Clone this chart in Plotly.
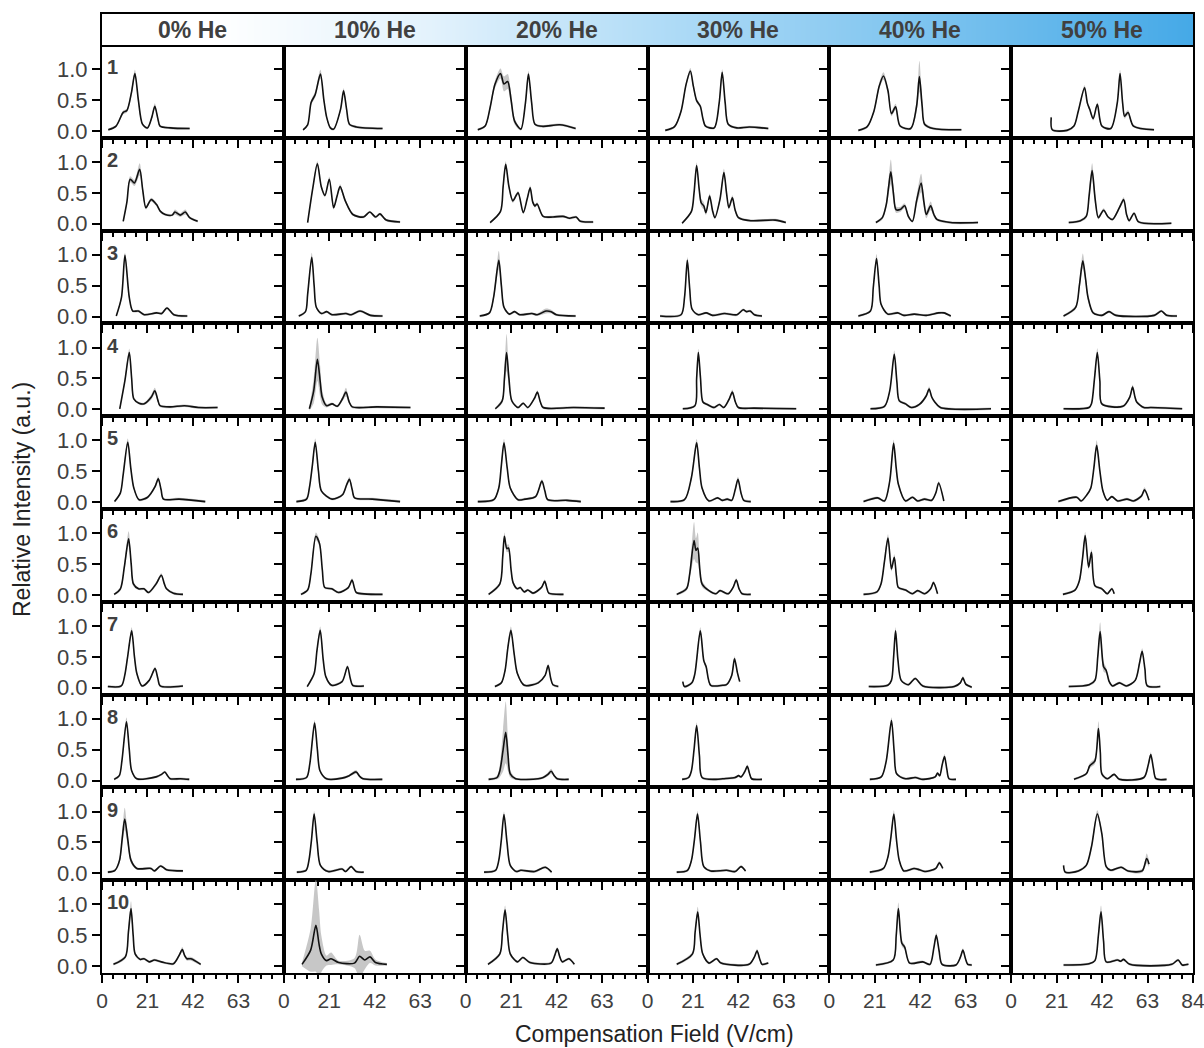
import plotly.graph_objects as go

# ---------------- data (x = compensation field V/cm, y = relative intensity, e = band half-width) ----
helium = ["0% He", "10% He", "20% He", "30% He", "40% He", "50% He"]
panel_labels = ["1", "2", "3", "4", "5", "6", "7", "8", "9", "10"]
x_ticks = [0, 21, 42, 63]
x_ticks_last = [0, 21, 42, 63, 84]
y_ticks = [0.0, 0.5, 1.0]
y_ticktext = ["0.0", "0.5", "1.0"]

# row 1
m1_he0 = [(2.9,.02,.02),(6.5,.08,.02),(9.8,.3,.03),(11.5,.33,.03),(13.6,.62,.05),(15.2,.93,.06),(16.8,.5,.04),(18.7,.11,.02),(21,.05,.02),(23,.22,.03),(24.4,.4,.05),(25.8,.2,.03),(26.8,.08,.02),(31.6,.05,.02),(40.5,.04,.02)]
m1_he10 = [(8.9,.02,.02),(11,.1,.02),(12.6,.46,.04),(14.5,.59,.05),(16.9,.92,.07),(18.5,.5,.04),(19.8,.22,.03),(21.5,.05,.02),(23,.03,.02),(26.2,.35,.03),(27.6,.65,.04),(29,.35,.03),(30.3,.11,.02),(33.5,.065,.02),(45.6,.04,.02)]
m1_he20 = [(5.6,.02,.02),(9,.08,.02),(11.3,.38,.04),(13.5,.75,.06),(16.1,.93,.08),(17.7,.76,.12),(19.4,.8,.12),(21,.5,.1),(22.6,.16,.05),(25.5,.03,.02),(27.6,.45,.04),(29,.92,.05),(30.5,.45,.03),(32,.11,.02),(35.5,.075,.02),(43.5,.1,.02),(50.8,.04,.02)]
m1_he30 = [(8.2,.01,.02),(12.5,.07,.02),(15.5,.32,.03),(17.8,.75,.04),(19.8,.97,.05),(21.2,.72,.04),(22.7,.49,.03),(24.4,.4,.03),(25.6,.2,.03),(26.8,.08,.02),(30.8,.05,.02),(33.1,.45,.04),(34.5,.95,.05),(35.9,.45,.04),(37.3,.11,.02),(41.3,.05,.02),(47,.065,.02),(55.8,.04,.02)]
m1_he40 = [(13.4,.01,.02),(17.5,.07,.02),(20.6,.32,.03),(23,.72,.05),(25,.89,.06),(27.1,.65,.05),(28.7,.28,.04),(30.6,.39,.05),(32.7,.08,.02),(37.6,.04,.02),(40.3,.4,.1),(41.6,.88,.25),(42.9,.4,.1),(44,.11,.03),(48,.04,.02),(61,.02,.02)]
m1_he50 = [(18.5,.22,.05),(19,.02,.02),(25.8,.01,.02),(29,.08,.02),(31,.32,.03),(33.9,.7,.04),(35.2,.45,.03),(36.3,.35,.03),(37.9,.2,.03),(39.8,.43,.03),(41.9,.08,.02),(46,.04,.02),(49,.45,.04),(50.3,.93,.06),(51.5,.45,.04),(52.4,.24,.04),(54,.3,.04),(56.5,.08,.02),(66,.02,.02)]

# row 2
m2_he0 = [(9.8,.04,.02),(11.5,.35,.03),(13,.72,.05),(15,.66,.05),(17.4,.88,.1),(18.8,.55,.05),(20.3,.26,.03),(22.7,.39,.03),(25.2,.31,.03),(27,.2,.02),(29.2,.15,.02),(32.4,.14,.02),(33.7,.19,.04),(36.1,.14,.03),(38.5,.19,.04),(40.5,.1,.02),(44.2,.04,.02)]
m2_he10 = [(11,.02,.02),(13.4,.58,.03),(15.5,.97,.04),(17.3,.6,.03),(19,.46,.03),(21,.72,.04),(23,.26,.03),(24.6,.45,.03),(26,.6,.04),(28.4,.37,.03),(31.9,.15,.02),(36.8,.11,.02),(39.7,.19,.02),(42.4,.11,.02),(44.4,.16,.02),(47.3,.06,.02),(53.7,.03,.02)]
m2_he20 = [(11.3,.02,.02),(16.1,.2,.02),(17.3,.6,.04),(18.5,.96,.05),(20,.6,.04),(21.8,.37,.03),(24.2,.5,.03),(26.6,.18,.02),(28.4,.4,.03),(29.8,.58,.04),(31,.35,.03),(32,.29,.03),(33,.32,.03),(35.8,.12,.02),(40.3,.11,.02),(45,.12,.02),(48,.09,.02),(51,.11,.02),(53,.04,.02),(58.9,.03,.02)]
m2_he30 = [(16,.01,.02),(20.3,.2,.02),(21.5,.5,.04),(22.7,.94,.05),(23.9,.55,.05),(24.8,.34,.06),(26,.29,.06),(27,.18,.04),(28.7,.45,.04),(30,.22,.03),(31.1,.1,.02),(33.5,.4,.04),(35.3,.83,.06),(36.5,.5,.05),(37.6,.26,.03),(39.2,.42,.04),(40.5,.22,.03),(42,.1,.02),(47.7,.05,.02),(59,.06,.02),(63.9,.02,.02)]
m2_he40 = [(21.5,.02,.02),(24.5,.1,.03),(26.3,.31,.06),(27.4,.6,.12),(28.4,.84,.2),(29.6,.5,.12),(30.8,.23,.05),(32.7,.23,.04),(34.8,.29,.04),(36.5,.12,.03),(38.4,.04,.02),(40.3,.37,.08),(42.4,.66,.15),(43.7,.35,.1),(44.8,.15,.06),(46.8,.29,.07),(48.3,.15,.04),(49.7,.07,.02),(56,.02,.02),(68.7,.02,.02)]
m2_he50 = [(26.6,.02,.02),(32,.05,.02),(34.7,.12,.03),(36,.45,.08),(37.4,.86,.12),(38.8,.4,.08),(40.3,.1,.03),(42.7,.22,.03),(44.8,.11,.02),(46.8,.07,.02),(50,.26,.03),(52,.39,.04),(53.3,.15,.02),(54.5,.05,.02),(56.8,.17,.02),(58.9,.03,.02),(74,.01,.02)]

# row 3
m3_he0 = [(6.6,.01,.02),(9,.31,.03),(10.6,.99,.04),(12.6,.31,.03),(14.2,.09,.02),(16.8,.09,.02),(19.5,.03,.02),(25.2,.06,.02),(27.6,.05,.02),(30,.14,.02),(33.2,.03,.02),(39.4,.01,.02)]
m3_he10 = [(6.9,.01,.02),(10,.08,.02),(11,.36,.04),(12.9,.96,.07),(14,.5,.04),(15,.15,.02),(17.4,.05,.02),(19.8,.08,.02),(22.3,.03,.02),(28.7,.05,.02),(31.1,.03,.02),(35.2,.09,.02),(40,.02,.02),(45.6,.01,.02)]
m3_he20 = [(6.5,.01,.02),(11,.06,.02),(12.9,.31,.05),(15.3,.91,.15),(16.5,.5,.08),(17.7,.15,.03),(20.2,.04,.02),(22.6,.08,.02),(25,.03,.02),(30.6,.05,.02),(33,.03,.02),(37.1,.09,.04),(39.5,.08,.03),(41.9,.03,.02),(50.8,.01,.02)]
m3_he30 = [(5.8,.01,.02),(15.5,.03,.02),(17.1,.31,.03),(18.4,.91,.05),(19.5,.45,.03),(20.6,.12,.02),(23.5,.03,.02),(27.1,.06,.02),(30,.02,.02),(35.6,.05,.02),(41.3,.03,.02),(44.2,.11,.02),(45.8,.08,.02),(47.4,.09,.02),(49.4,.03,.02),(52.9,.01,.02)]
m3_he40 = [(13.4,.01,.02),(19,.09,.02),(20.3,.47,.04),(21.8,.94,.07),(23,.5,.04),(23.9,.2,.02),(27,.04,.02),(31.6,.06,.02),(34.4,.02,.02),(39.2,.04,.02),(44.8,.02,.02),(50.5,.06,.02),(52.9,.06,.02),(56.1,.01,.02)]
m3_he50 = [(24.2,.01,.02),(29.8,.15,.03),(31.5,.5,.08),(33.1,.9,.12),(34.4,.6,.08),(35.5,.31,.05),(37.9,.06,.02),(41.9,.02,.02),(45.2,.08,.02),(48.4,.02,.02),(66.1,.02,.02),(69.4,.09,.02),(71.8,.02,.02),(76.6,.01,.02)]

# row 4
m4_he0 = [(8.2,.01,.02),(10.6,.47,.04),(12.6,.92,.06),(13.7,.5,.04),(14.7,.17,.02),(17.1,.1,.02),(19.5,.09,.02),(22.8,.2,.04),(24.4,.3,.05),(25.8,.15,.03),(26.8,.06,.02),(31.6,.04,.02),(38.1,.06,.02),(44.5,.03,.02),(53.4,.03,.02)]
m4_he10 = [(11.8,.01,.03),(13.8,.3,.2),(15.5,.81,.35),(16.8,.45,.25),(17.7,.2,.12),(19.8,.06,.03),(22.3,.09,.02),(24.7,.05,.02),(27.2,.18,.04),(28.7,.28,.07),(30.2,.12,.03),(31.6,.04,.02),(43.2,.04,.02),(58.5,.03,.02)]
m4_he20 = [(13.7,.01,.02),(16.9,.14,.04),(17.9,.5,.15),(18.9,.92,.3),(20,.5,.12),(21.3,.14,.03),(24.2,.03,.02),(26.6,.1,.02),(28.7,.03,.02),(31.8,.18,.02),(33.1,.28,.03),(34.5,.12,.02),(35.8,.03,.02),(50,.03,.02),(64.2,.02,.02)]
m4_he30 = [(16.3,.01,.02),(21.9,.06,.02),(22.7,.5,.04),(23.5,.92,.06),(24.5,.5,.04),(25.6,.12,.02),(27.6,.08,.02),(30.8,.03,.02),(33.2,.08,.02),(35.2,.03,.02),(37.9,.18,.03),(39.2,.28,.04),(40.6,.12,.02),(42,.03,.02),(49.4,.02,.02),(68.7,.01,.02)]
m4_he40 = [(19,.01,.02),(25.5,.05,.02),(27.9,.3,.03),(30,.89,.06),(31.2,.45,.04),(32.3,.14,.02),(35.2,.09,.02),(37.9,.03,.02),(41.6,.08,.02),(44.8,.22,.03),(46.1,.33,.04),(47.3,.2,.03),(48.7,.12,.02),(51.3,.03,.02),(74.7,.01,.02)]
m4_he50 = [(24.2,.01,.02),(36,.03,.02),(37.1,.09,.02),(38.5,.5,.05),(39.8,.92,.07),(41,.45,.04),(41.9,.09,.02),(51.6,.05,.02),(54.8,.2,.03),(56.1,.36,.04),(57.2,.2,.03),(58,.12,.02),(61.3,.03,.02),(64.5,.03,.02),(79,.01,.02)]

# row 5
m5_he0 = [(5.8,.01,.02),(8.5,.15,.02),(9.8,.45,.04),(11.9,.97,.06),(13.3,.55,.04),(14.7,.23,.03),(17.1,.04,.02),(21.1,.08,.02),(24.5,.25,.03),(26,.38,.04),(27.3,.2,.02),(28.4,.05,.02),(35.6,.05,.02),(47.7,.01,.02)]
m5_he10 = [(5.8,.01,.02),(10.5,.05,.02),(11.8,.23,.03),(13.2,.6,.04),(14.5,.97,.06),(16,.5,.04),(17.4,.18,.02),(22.3,.05,.02),(27.1,.12,.02),(29,.28,.03),(30.3,.37,.04),(31.6,.2,.03),(32.7,.07,.02),(40.8,.05,.02),(53.7,.01,.02)]
m5_he20 = [(5.6,.01,.02),(13,.04,.02),(15.3,.23,.03),(16.5,.6,.04),(17.7,.96,.06),(19.2,.55,.04),(20.6,.23,.03),(24.2,.04,.02),(27.4,.05,.02),(32.3,.09,.02),(35.2,.34,.03),(36.6,.18,.02),(37.9,.04,.02),(46.8,.03,.02),(53.2,.01,.02)]
m5_he30 = [(10.6,.01,.02),(17.1,.04,.02),(20.3,.4,.04),(22.7,.96,.06),(24,.55,.04),(25.2,.23,.03),(28.4,.02,.02),(32.4,.07,.02),(34.5,.03,.02),(36.8,.05,.02),(38.9,.03,.02),(40.5,.2,.03),(41.8,.37,.04),(43.2,.15,.02),(44.5,.03,.02),(47.7,.01,.02)]
m5_he40 = [(15.8,.01,.02),(22.3,.07,.02),(25.5,.02,.02),(27.9,.34,.04),(29.7,.95,.06),(30.9,.55,.04),(31.9,.29,.03),(35.2,.02,.02),(38.4,.08,.02),(40.8,.02,.02),(44,.05,.02),(47.3,.03,.02),(49.2,.15,.02),(50.5,.31,.03),(52.9,.02,.02)]
m5_he50 = [(21.8,.01,.02),(30.3,.08,.02),(32.3,.02,.02),(35,.12,.02),(36.8,.23,.03),(38.2,.55,.05),(39.5,.92,.08),(41,.5,.05),(42.4,.18,.03),(44.4,.03,.02),(46.5,.09,.02),(49.2,.02,.02),(53.5,.05,.02),(56.5,.02,.02),(60.2,.1,.03),(61.6,.2,.04),(63.7,.03,.02)]

# row 6
m6_he0 = [(5.6,.01,.02),(8.5,.1,.03),(10.3,.45,.06),(12.3,.91,.12),(13.5,.5,.08),(14.5,.18,.04),(16.9,.1,.02),(19.4,.1,.02),(21.5,.04,.02),(25,.18,.03),(27.4,.32,.03),(28.8,.18,.02),(29.8,.1,.02),(33,.03,.02),(37.4,.01,.02)]
m6_he10 = [(7.9,.01,.02),(11,.08,.02),(12.5,.34,.04),(14.8,.95,.06),(16.5,.83,.05),(17.8,.4,.03),(18.9,.12,.02),(22.1,.1,.02),(25.3,.04,.02),(29.8,.12,.02),(31.5,.24,.03),(32.7,.1,.02),(33.5,.04,.02),(45.6,.01,.02)]
m6_he20 = [(10.6,.01,.02),(15.8,.18,.03),(17.1,.61,.05),(17.9,.95,.06),(19,.75,.06),(19.8,.76,.06),(21,.4,.04),(21.9,.2,.03),(23.9,.1,.02),(25.2,.12,.02),(27.1,.05,.02),(28.7,.08,.02),(31.1,.03,.02),(35,.12,.02),(36.5,.22,.03),(37.6,.1,.02),(38.4,.03,.02),(45.2,.01,.02)]
m6_he30 = [(13.5,.01,.02),(18,.1,.03),(19.5,.34,.08),(21.5,.88,.3),(22.4,.72,.2),(23.2,.76,.25),(24.2,.4,.12),(25.2,.18,.05),(28.4,.07,.02),(31.6,.02,.02),(33.5,.07,.02),(37.3,.02,.02),(39.5,.12,.02),(41,.24,.03),(42.3,.1,.02),(43.7,.02,.02),(47.7,.01,.02)]
m6_he40 = [(15.8,.01,.02),(22,.05,.02),(23.9,.18,.03),(25.5,.55,.05),(27.1,.92,.06),(28.7,.42,.04),(30,.61,.05),(31,.3,.03),(31.9,.12,.02),(35.2,.08,.02),(38.4,.02,.02),(40.8,.07,.02),(44,.02,.02),(46.8,.1,.02),(48.1,.2,.03),(50,.02,.02)]
m6_he50 = [(23.9,.01,.02),(29.5,.08,.02),(31.5,.23,.03),(33,.6,.05),(34.2,.96,.06),(35.8,.45,.04),(37.1,.69,.05),(38.7,.15,.02),(41.9,.1,.02),(44.4,.02,.02),(46.5,.1,.02),(47.6,.02,.02)]

# row 7
m7_he0 = [(2.7,.02,.02),(8.9,.03,.02),(10.5,.2,.03),(11.8,.49,.04),(13.7,.92,.06),(15,.5,.04),(16.1,.23,.03),(18.5,.03,.02),(21.8,.12,.02),(24.5,.31,.03),(25.8,.15,.02),(26.9,.03,.02),(37.4,.03,.02)]
m7_he10 = [(10.8,.02,.02),(14,.23,.03),(15.3,.6,.04),(16.8,.93,.06),(18.2,.45,.04),(19.4,.18,.02),(22.1,.04,.02),(26.9,.1,.02),(29.4,.34,.03),(30.7,.15,.02),(31.8,.04,.02),(37,.03,.02)]
m7_he20 = [(13.5,.02,.02),(16.5,.08,.02),(18.2,.28,.03),(19.5,.65,.05),(20.9,.93,.06),(22.4,.55,.04),(23.9,.23,.03),(27.1,.04,.02),(33.5,.08,.02),(36.7,.2,.02),(38.1,.36,.03),(39.3,.15,.02),(40.3,.05,.02),(42.8,.02,.02)]
m7_he30 = [(16.3,.1,.02),(17.1,.02,.02),(20.5,.08,.02),(21.9,.23,.03),(24.4,.92,.06),(26,.44,.04),(27.1,.34,.03),(29.2,.04,.02),(34.8,.04,.02),(36.5,.05,.02),(38.9,.2,.03),(40.2,.47,.04),(41.5,.25,.03),(42.6,.1,.02)]
m7_he40 = [(18.2,.02,.02),(27,.04,.02),(28.7,.12,.02),(29.7,.5,.04),(30.6,.92,.06),(31.7,.45,.04),(33.2,.12,.02),(36.5,.05,.02),(39.7,.15,.02),(43.2,.03,.02),(57.7,.02,.02),(60.5,.08,.02),(61.7,.16,.03),(63,.06,.02),(65.8,.01,.02)]
m7_he50 = [(26.6,.02,.02),(36,.05,.02),(38.7,.12,.03),(40,.5,.08),(41.1,.91,.15),(42.7,.34,.08),(43.9,.28,.05),(45.3,.1,.02),(46.8,.03,.02),(50,.08,.02),(53.2,.03,.02),(57.3,.12,.02),(59.3,.4,.04),(60.5,.59,.05),(61.8,.3,.03),(62.9,.03,.02),(68.9,.02,.02)]

# row 8
m8_he0 = [(5.6,.02,.02),(8,.08,.02),(9.2,.32,.04),(11.3,.95,.07),(12.6,.5,.04),(13.7,.16,.02),(16.1,.03,.02),(25,.06,.02),(27.5,.1,.02),(29,.14,.02),(30.3,.08,.02),(31.5,.03,.02),(36.3,.03,.02),(40.3,.02,.02)]
m8_he10 = [(5.6,.02,.02),(10.5,.05,.02),(12,.27,.03),(14.2,.93,.05),(15.5,.5,.04),(16.7,.16,.02),(19.7,.03,.02),(26.9,.04,.02),(30.2,.08,.02),(33.4,.14,.03),(35,.07,.02),(36.6,.03,.02),(45.5,.02,.02)]
m8_he20 = [(10.6,.02,.02),(14.5,.05,.03),(15.8,.16,.1),(17.3,.5,.35),(18.5,.78,.5),(19.6,.4,.25),(20.6,.11,.06),(23.1,.03,.02),(33.5,.03,.02),(35.8,.05,.02),(38,.1,.03),(39.5,.15,.04),(40.9,.08,.02),(42.3,.03,.02),(47.6,.02,.02)]
m8_he30 = [(16,.02,.02),(19,.05,.02),(20.3,.16,.02),(21.5,.5,.04),(22.7,.89,.05),(24,.4,.03),(25.2,.05,.02),(31.6,.02,.02),(34.8,.03,.02),(40.5,.05,.02),(42.1,.08,.02),(43.2,.06,.02),(45,.15,.03),(46.1,.23,.03),(47.1,.12,.02),(48.1,.03,.02),(52.9,.02,.02)]
m8_he40 = [(18.7,.02,.02),(24,.06,.02),(26.3,.32,.03),(28.7,.97,.05),(30,.45,.03),(31.1,.11,.02),(35.2,.03,.02),(39.7,.05,.02),(43.2,.02,.02),(48.9,.06,.02),(50,.12,.02),(51,.08,.02),(52.1,.25,.03),(53.2,.39,.04),(54.3,.18,.02),(55.3,.03,.02),(58.5,.02,.02)]
m8_he50 = [(29,.02,.02),(34.7,.11,.02),(36.3,.24,.04),(38.7,.32,.05),(40.3,.84,.12),(41.2,.45,.06),(41.9,.11,.03),(44.4,.03,.02),(47.6,.1,.02),(50,.02,.02),(61.3,.05,.02),(63.3,.25,.03),(64.5,.42,.04),(65.7,.2,.02),(66.9,.03,.02),(71.8,.02,.02)]

# row 9
m9_he0 = [(2.7,.02,.02),(6,.05,.02),(8.1,.21,.05),(9.3,.55,.1),(10.5,.88,.18),(11.9,.55,.1),(13.4,.21,.05),(16.1,.08,.02),(22.6,.08,.02),(24.2,.04,.02),(27.1,.12,.02),(29.8,.06,.02),(37.4,.04,.02)]
m9_he10 = [(6,.02,.02),(10.3,.05,.02),(11.6,.21,.03),(12.8,.55,.04),(14,.96,.05),(15.4,.5,.03),(16.9,.13,.02),(20.5,.03,.02),(26.9,.07,.02),(28.5,.03,.02),(31.1,.11,.02),(33.4,.03,.02),(36.9,.02,.02)]
m9_he20 = [(8.5,.02,.02),(13.8,.05,.02),(15.3,.21,.03),(16.5,.55,.04),(17.7,.95,.05),(19.1,.5,.03),(20.6,.13,.02),(23.4,.03,.02),(25.5,.05,.02),(31.9,.03,.02),(36.8,.1,.02),(39.7,.02,.02)]
m9_he30 = [(13.5,.02,.02),(18.5,.05,.02),(20.3,.21,.03),(21.7,.55,.04),(23.1,.96,.05),(24.5,.5,.03),(26,.11,.02),(29.2,.04,.02),(36.5,.05,.02),(40.5,.03,.02),(43.2,.11,.02),(45.3,.04,.02)]
m9_he40 = [(18.7,.02,.02),(25,.08,.02),(27.1,.27,.03),(28.5,.6,.04),(29.8,.96,.06),(31,.55,.04),(32.3,.21,.03),(34.4,.04,.02),(39.2,.08,.02),(41.6,.06,.02),(44.2,.03,.02),(49.2,.08,.02),(50.8,.17,.03),(52.4,.08,.02)]
m9_he50 = [(24.2,.13,.03),(25,.02,.02),(31,.04,.02),(34.7,.13,.02),(37.1,.43,.04),(39.8,.96,.06),(41.9,.64,.05),(43.9,.11,.02),(46,.05,.02),(50.8,.1,.02),(54,.04,.02),(60.5,.04,.03),(62.6,.24,.08),(63.7,.15,.05)]

# row 10
m10_he0 = [(5.3,.03,.02),(10.8,.15,.03),(12.2,.55,.06),(13.4,.93,.12),(14.4,.5,.06),(15.3,.2,.03),(17.7,.11,.02),(19.4,.12,.02),(21.8,.07,.02),(24.2,.1,.02),(27.4,.07,.02),(33,.04,.02),(35.7,.18,.03),(37.1,.27,.04),(38.2,.17,.03),(39.2,.12,.03),(41.1,.12,.03),(45.6,.03,.02)]
m10_he10 = [(8.4,.03,.03),(12.4,.26,.35),(14.8,.66,.75),(16.3,.35,.55),(17.3,.2,.3),(19.7,.09,.08),(21.8,.12,.1),(25.3,.06,.03),(32.6,.05,.08),(35,.16,.35),(37.4,.1,.15),(39.8,.15,.1),(42.3,.06,.05),(47.6,.03,.02)]
m10_he20 = [(10.3,.03,.02),(15.8,.2,.03),(17,.55,.05),(18.2,.91,.07),(19.4,.5,.05),(20.6,.2,.03),(23.9,.07,.02),(26.4,.14,.02),(29.7,.06,.02),(39.4,.05,.02),(41.2,.18,.02),(42.3,.28,.03),(43.5,.15,.02),(44.6,.07,.02),(47.7,.12,.02),(50.2,.03,.02)]
m10_he30 = [(13.5,.03,.02),(20.8,.2,.03),(22,.55,.05),(23.2,.88,.08),(24.3,.5,.05),(25.5,.2,.03),(28.4,.05,.02),(31.9,.12,.02),(34,.05,.02),(46.9,.03,.02),(49.4,.15,.02),(50.6,.25,.03),(51.8,.12,.02),(52.9,.03,.02),(55.8,.05,.02)]
m10_he40 = [(21.5,.02,.02),(29.5,.1,.02),(30.9,.5,.06),(31.9,.93,.1),(33.5,.37,.05),(34.8,.31,.04),(37.1,.05,.02),(43.2,.07,.02),(46.5,.03,.02),(48.3,.3,.03),(49.4,.5,.04),(50.7,.25,.03),(52.1,.03,.02),(58.5,.02,.02),(60.6,.15,.02),(61.7,.26,.03),(62.9,.12,.02),(63.9,.03,.02),(65.8,.02,.02)]
m10_he50 = [(24.2,.02,.02),(36,.04,.02),(38.7,.09,.02),(40.3,.5,.06),(41.5,.88,.1),(42.7,.4,.05),(43.9,.07,.02),(49.2,.1,.02),(50.6,.08,.02),(51.9,.11,.02),(54.8,.03,.02),(74.2,.03,.02),(77.1,.1,.02),(79,.02,.02),(81.9,.03,.02)]

panels = [
    [m1_he0, m1_he10, m1_he20, m1_he30, m1_he40, m1_he50],
    [m2_he0, m2_he10, m2_he20, m2_he30, m2_he40, m2_he50],
    [m3_he0, m3_he10, m3_he20, m3_he30, m3_he40, m3_he50],
    [m4_he0, m4_he10, m4_he20, m4_he30, m4_he40, m4_he50],
    [m5_he0, m5_he10, m5_he20, m5_he30, m5_he40, m5_he50],
    [m6_he0, m6_he10, m6_he20, m6_he30, m6_he40, m6_he50],
    [m7_he0, m7_he10, m7_he20, m7_he30, m7_he40, m7_he50],
    [m8_he0, m8_he10, m8_he20, m8_he30, m8_he40, m8_he50],
    [m9_he0, m9_he10, m9_he20, m9_he30, m9_he40, m9_he50],
    [m10_he0, m10_he10, m10_he20, m10_he30, m10_he40, m10_he50],
]

# ---------------- layout geometry ----------------
W, H = 1204, 1048
ML, MR, MT, MB = 102, 11, 14, 75
PW, PH = W - ML - MR, H - MT - MB
HEADER = 31
NR, NC = 10, 6
ROW_H = (PH - HEADER) / NR
FONT = "Liberation Sans, Arial, sans-serif"
TXT = "#404040"

fig = go.Figure()
layout = {}
annotations = []

for r in range(NR):
    top = HEADER + r * ROW_H
    y1 = 1 - top / PH
    y0 = 1 - (top + ROW_H) / PH
    for c in range(NC):
        idx = r * NC + c + 1
        sfx = "" if idx == 1 else str(idx)
        xa, ya = "x" + sfx, "y" + sfx
        pts = panels[r][c]
        xs = [p[0] for p in pts]
        ys = [p[1] for p in pts]
        lo = [p[1] - p[2] for p in pts]
        hi = [p[1] + p[2] for p in pts]
        fig.add_trace(go.Scatter(x=xs, y=lo, mode="lines", xaxis=xa, yaxis=ya,
                                 line=dict(width=0, shape="spline", smoothing=0.8),
                                 hoverinfo="skip", showlegend=False))
        fig.add_trace(go.Scatter(x=xs, y=hi, mode="lines", xaxis=xa, yaxis=ya, fill="tonexty",
                                 fillcolor="rgba(175,175,175,0.7)",
                                 line=dict(width=0, shape="spline", smoothing=0.8),
                                 hoverinfo="skip", showlegend=False))
        fig.add_trace(go.Scatter(x=xs, y=ys, mode="lines", xaxis=xa, yaxis=ya,
                                 line=dict(color="#111111", width=1.6, shape="spline", smoothing=0.8),
                                 showlegend=False))
        layout["xaxis" + sfx] = dict(
            domain=[c / NC, (c + 1) / NC], anchor=ya, range=[0, 84],
            showline=True, mirror=True, linecolor="black", linewidth=2,
            ticks="outside", ticklen=8, tickwidth=2, tickcolor="black",
            tickmode="array", tickvals=x_ticks_last if c == NC - 1 else x_ticks,
            showticklabels=(r == NR - 1), automargin=False, ticklabeloverflow="allow",
            tickfont=dict(family=FONT, size=21, color=TXT),
            minor=dict(tickmode="linear", tick0=0, dtick=5.25, ticks="outside",
                       ticklen=4, tickwidth=1.5, tickcolor="black", showgrid=False),
            showgrid=False, zeroline=False, fixedrange=True,
        )
        layout["yaxis" + sfx] = dict(
            domain=[y0, y1], anchor=xa, range=[-0.11, 1.39],
            showline=True, mirror=True, linecolor="black", linewidth=2,
            ticks="outside", ticklen=8, tickwidth=2, tickcolor="black",
            tickmode="array", tickvals=y_ticks, ticktext=y_ticktext,
            showticklabels=(c == 0), automargin=False,
            tickfont=dict(family=FONT, size=22, color=TXT),
            showgrid=False, zeroline=False, fixedrange=True,
        )
        if c == 0:
            annotations.append(dict(text="<b>" + panel_labels[r] + "</b>", xref=xa, yref=ya,
                                    x=1.5, y=1.03, xanchor="left", yanchor="middle", showarrow=False,
                                    font=dict(family=FONT, size=20, color=TXT)))

# header gradient bar
hidx = NR * NC + 1
fig.add_trace(go.Heatmap(z=[[0, 1], [0, 1]], x=[0, 1], y=[0, 1], xaxis="x%d" % hidx, yaxis="y%d" % hidx,
                         zsmooth="best", showscale=False, hoverinfo="skip",
                         colorscale=[[0, "#ffffff"], [0.1, "#ffffff"], [0.3, "#e3f2fc"],
                                     [0.5, "#b3ddf7"], [0.75, "#7ec4ef"], [1, "#45a9e7"]]))
layout["xaxis%d" % hidx] = dict(domain=[0, 1], anchor="y%d" % hidx, range=[0, 1], showticklabels=False,
                                ticks="", showgrid=False, zeroline=False, showline=True, mirror=True,
                                linecolor="black", linewidth=2, fixedrange=True, automargin=False)
layout["yaxis%d" % hidx] = dict(domain=[1 - HEADER / PH, 1], anchor="x%d" % hidx, range=[0, 1],
                                showticklabels=False, ticks="", showgrid=False, zeroline=False,
                                showline=True, mirror=True, linecolor="black", linewidth=2,
                                fixedrange=True, automargin=False)
for c, lab in enumerate(helium):
    annotations.append(dict(text="<b>" + lab + "</b>", xref="paper", yref="paper",
                            x=(c + 0.5) / NC, y=1 - HEADER / PH / 2, xanchor="center", yanchor="middle",
                            showarrow=False, font=dict(family=FONT, size=23, color=TXT)))

# axis titles
annotations.append(dict(text="Relative Intensity (a.u.)", xref="paper", yref="paper",
                        x=(22 - ML) / PW, y=(H - MB - 500) / PH, textangle=-90,
                        xanchor="center", yanchor="middle", showarrow=False,
                        font=dict(family=FONT, size=23, color="#222222")))
annotations.append(dict(text="Compensation Field (V/cm)", xref="paper", yref="paper",
                        x=(654 - ML) / PW, y=(H - MB - 1034) / PH,
                        xanchor="center", yanchor="middle", showarrow=False,
                        font=dict(family=FONT, size=23, color="#222222")))

fig.update_layout(
    width=W, height=H, autosize=False, margin=dict(l=ML, r=MR, t=MT, b=MB, autoexpand=False),
    paper_bgcolor="white", plot_bgcolor="rgba(0,0,0,0)",
    showlegend=False, annotations=annotations, **layout,
)
fig.write_html("out.html", config={"responsive": False})
